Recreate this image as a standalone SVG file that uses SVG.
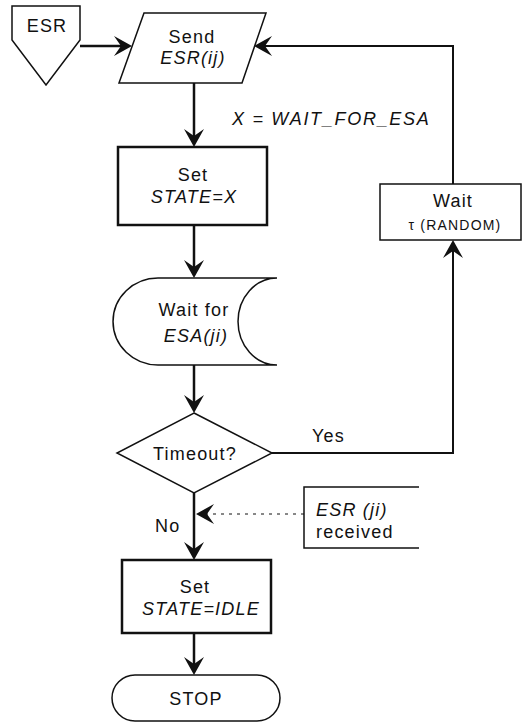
<svg xmlns="http://www.w3.org/2000/svg" width="524" height="723" viewBox="0 0 524 723">
<style>
text{font-family:"Liberation Sans",Arial,sans-serif;font-size:18px;letter-spacing:1.2px;fill:#111}
.c{text-anchor:middle}
.i{font-style:italic}
.sm{font-size:14px}
.shape{fill:#fff;stroke:#111;stroke-width:1.5}
.bold{stroke-width:2.5}
.flow{fill:none;stroke:#111;stroke-width:2.5}
.loop{fill:none;stroke:#111;stroke-width:2}
.dot{fill:none;stroke:#111;stroke-width:1;stroke-dasharray:3 5}
</style>
<defs>
<marker id="ah" viewBox="-18 -10 18 20" refX="-4" refY="0" markerWidth="18" markerHeight="20" markerUnits="userSpaceOnUse" orient="auto">
<path d="M0,0 L-18,-10 L-11,0 L-18,10 Z" fill="#111"/>
</marker>
</defs>
<rect width="524" height="723" fill="#fff"/>
<g id="connectors">
<path class="flow" d="M80,46 H128" marker-end="url(#ah)"/>
<path class="flow" d="M194,83 V143" marker-end="url(#ah)"/>
<path class="flow" d="M194,225 V274" marker-end="url(#ah)"/>
<path class="flow" d="M194,365 V409" marker-end="url(#ah)"/>
<path class="flow" d="M194,493 V556" marker-end="url(#ah)"/>
<path class="flow" d="M194,633 V671" marker-end="url(#ah)"/>
<path class="loop" d="M272,453 H453 V244" marker-end="url(#ah)"/>
<path class="loop" d="M453,184 V46 H258" marker-end="url(#ah)"/>
<path class="dot" d="M304,514 H200" marker-end="url(#ah)"/>
<text x="232" y="125" class="i" textLength="198" lengthAdjust="spacing">X = WAIT_FOR_ESA</text>
<text x="312" y="442">Yes</text>
<text x="155" y="532">No</text>
</g>
<g id="esr">
<path class="shape" d="M12,6 H80 V40 L46,85 L12,40 Z"/>
<text x="47" y="32" class="c">ESR</text>
</g>
<g id="send">
<path class="shape" d="M144,13 H266 L242,83 H119 Z"/>
<text x="192" y="43" class="c">Send</text>
<text x="193" y="64" class="c i">ESR(ij)</text>
</g>
<g id="setx">
<rect class="shape bold" x="118" y="147" width="149" height="78"/>
<text x="193" y="181" class="c">Set</text>
<text x="194" y="203" class="c i">STATE=X</text>
</g>
<g id="waitfor">
<path class="shape" d="M158,278 H277 A39,43.5 0 0 0 277,365 H158 A45,43.5 0 0 1 158,278 Z"/>
<text x="194" y="316" class="c">Wait for</text>
<text x="196" y="342" class="c i">ESA(ji)</text>
</g>
<g id="timeout">
<path class="shape" d="M194,413 L272,453 L194,493 L117,453 Z"/>
<text x="195" y="460" class="c">Timeout?</text>
</g>
<g id="waitrandom">
<rect class="shape" x="380" y="184" width="141" height="56"/>
<text x="453" y="207" class="c">Wait</text>
<text x="455" y="230" class="c sm">τ (RANDOM)</text>
</g>
<g id="esrreceived">
<path fill="none" stroke="#111" stroke-width="1.5" d="M419,487 H304 V548 H419"/>
<text x="316" y="516" class="i">ESR (ji)</text>
<text x="316" y="538">received</text>
</g>
<g id="setidle">
<rect class="shape bold" x="122" y="560" width="149" height="73"/>
<text x="195" y="593" class="c">Set</text>
<text x="201" y="615" class="c i">STATE=IDLE</text>
</g>
<g id="stop">
<rect class="shape" x="112" y="675" width="168" height="46" rx="23"/>
<text x="196" y="705" class="c">STOP</text>
</g>
</svg>
